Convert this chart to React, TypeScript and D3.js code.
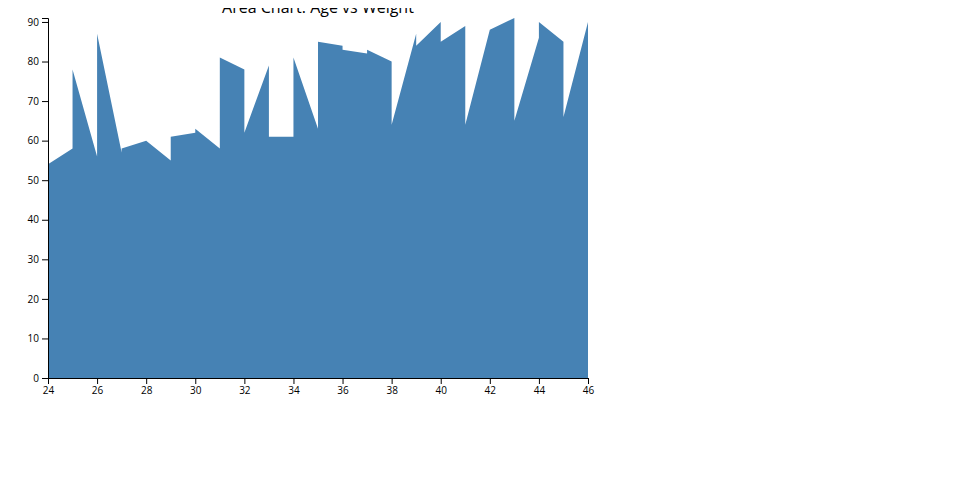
import React, { useEffect, useRef } from "react";
import * as d3 from "d3";

const ages = [24, 25, 25, 26, 26, 27, 27, 28, 29, 29, 30, 30, 31, 31, 32, 32, 33, 33, 34, 34, 35, 35, 36, 36, 37, 37, 38, 38, 39, 39, 40, 40, 41, 41, 42, 43, 43, 44, 44, 45, 45, 46];
const weights = [54, 58, 78, 56, 87, 57, 58, 60, 55, 61, 62, 63, 58, 81, 78, 62, 79, 61, 61, 81, 63, 85, 84, 83, 82, 83, 80, 64, 87, 84, 90, 85, 89, 64, 88, 91, 65, 86, 90, 85, 66, 90];
const chartTitle = "Area Chart: Age vs Weight";

export default function App() {
  const ref = useRef<SVGSVGElement>(null);
  useEffect(() => {
    const svg = d3.select(ref.current);
    svg.selectAll("*").remove();
    const width = 600, height = 400;
    const margin = { top: 10, right: 20, bottom: 30, left: 40 };
    const innerW = width - margin.left - margin.right;
    const innerH = height - margin.top - margin.bottom;
    const data = ages.map((a, i) => ({ age: a, weight: weights[i] }));
    const x = d3.scaleLinear().domain(d3.extent(data, d => d.age) as [number, number]).range([0, innerW]);
    const y = d3.scaleLinear().domain([0, d3.max(data, d => d.weight) as number]).range([innerH, 0]);
    const g = svg.append("g").attr("transform", `translate(${margin.left},${margin.top})`);
    const area = d3.area<{ age: number; weight: number }>()
      .x(d => x(d.age))
      .y0(innerH)
      .y1(d => y(d.weight));
    g.append("path").datum(data).attr("fill", "steelblue").attr("d", area);
    g.append("g").attr("transform", `translate(0,${innerH})`).call(d3.axisBottom(x))
      .attr("font-family", "'Open Sans', sans-serif");
    g.append("g").call(d3.axisLeft(y))
      .attr("font-family", "'Open Sans', sans-serif");
    svg.append("text")
      .attr("x", margin.left + innerW / 2)
      .attr("y", margin.top / 2)
      .attr("text-anchor", "middle")
      .style("font-size", "16px")
      .style("font-family", "'Open Sans', sans-serif")
      .text(chartTitle);
  }, []);
  return <svg ref={ref} width={600} height={400}></svg>;
}
